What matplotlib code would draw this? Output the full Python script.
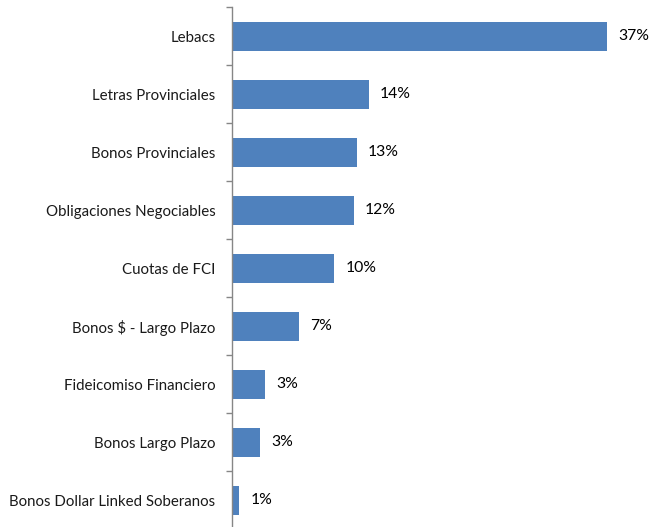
import matplotlib
matplotlib.use("Agg")
import matplotlib.pyplot as plt
import numpy as np

categories = ["Lebacs", "Letras Provinciales", "Bonos Provinciales",
              "Obligaciones Negociables", "Cuotas de FCI", "Bonos $ - Largo Plazo",
              "Fideicomiso Financiero", "Bonos Largo Plazo", "Bonos Dollar Linked Soberanos"]
values = [37.0, 13.5, 12.3, 12.0, 10.1, 6.6, 3.3, 2.8, 0.7]
labels = ["37%", "14%", "13%", "12%", "10%", "7%", "3%", "3%", "1%"]

plt.rcParams['font.family'] = ['Lato', 'DejaVu Sans']

W, H = 651, 527
fig = plt.figure(figsize=(W/100, H/100), dpi=100)
ax_left = 232 / W
ax_top = 7
ax_bottom = 529
ax = fig.add_axes([ax_left, 1 - ax_bottom/H, 1 - ax_left, (ax_bottom - ax_top)/H])

n = len(categories)
y = np.arange(n)[::-1]
ax.barh(y, values, height=0.5, color="#4F81BD", edgecolor="none")
for yi, v, lab in zip(y, values, labels):
    ax.annotate(lab, (v, yi), xytext=(8, 0), textcoords="offset points",
                va="center", ha="left", fontsize=11.3, color="black")

ax.set_ylim(-0.5, n - 0.5)
ax.set_xlim(0, (W - 232) / 10.13)
ax.set_yticks(y)
ax.set_yticklabels(categories, fontsize=10.8)
ax.set_yticks(np.arange(-0.5, n, 1.0), minor=True)
ax.tick_params(axis="y", which="major", length=0, pad=12, labelcolor="#1a1a1a")
ax.tick_params(axis="y", which="minor", length=4, color="#868686", width=1)
ax.set_xticks([])
for s in ["top", "right", "bottom"]:
    ax.spines[s].set_visible(False)
ax.spines["left"].set_color("#868686")
ax.spines["left"].set_linewidth(1)
ax.patch.set_alpha(0)

fig.savefig("out.png", dpi=100)
